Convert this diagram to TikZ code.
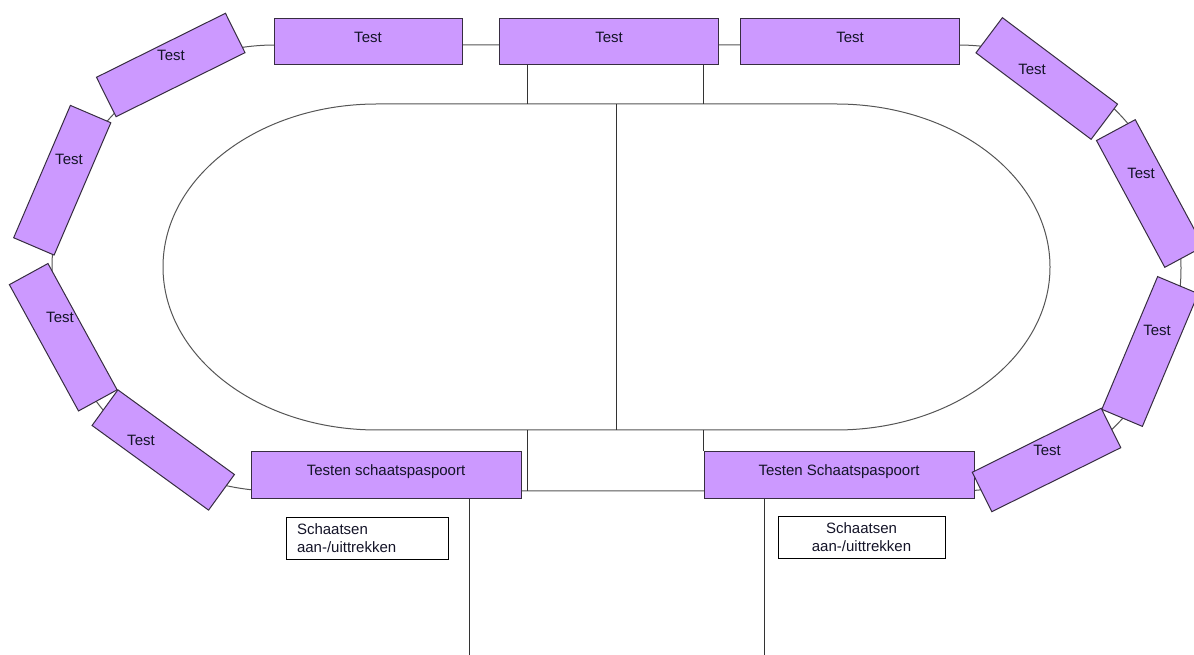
\documentclass[tikz,border=0pt]{standalone}
\usepackage{fontspec}
\setmainfont{Liberation Sans}
\usetikzlibrary{calc}
\definecolor{boxfill}{RGB}{204,153,255}
\definecolor{boxline}{RGB}{55,45,65}
\definecolor{trackline}{RGB}{85,85,85}
\definecolor{txt}{RGB}{20,20,40}
\tikzset{
  track/.style={draw=trackline, line width=1pt},
  conn/.style={draw=black!80, line width=0.9pt},
  tbox/.style={draw=boxline, fill=boxfill, line width=1pt, inner sep=0pt, minimum height=46pt},
  rbox/.style={draw=boxline, fill=boxfill, line width=1pt, inner sep=0pt, minimum width=144pt, minimum height=44pt},
  lab/.style={inner sep=0pt, text height=0.716em, text depth=0pt, text=txt, font=\fontsize{15}{17}\selectfont},
  note/.style={draw=black, line width=0.9pt, fill=white, inner xsep=11pt, minimum height=42pt, text=txt, font=\fontsize{15}{18}\selectfont}
}
\begin{document}
\begin{tikzpicture}[x=1pt, y=1pt]
\useasboundingbox (0,0) rectangle (1194,655);
\clip (0,0) rectangle (1194,655);

% outer track (stadium)
\coordinate (oTL) at (275,610);
\coordinate (oTR) at (958,610);
\coordinate (oBR) at (958,164);
\coordinate (oBL) at (275,164);
\draw[track] (oTL) -- (oTR) arc[start angle=90, end angle=-90, radius=223] -- (oBL) arc[start angle=270, end angle=90, radius=223] -- cycle;

% inner field
\coordinate (iTL) at (377,551);
\coordinate (iTR) at (836,551);
\coordinate (iBL) at (377,225);
\coordinate (iBR) at (836,225);
\draw[track] (iTL) -- (iTR) arc[start angle=90, end angle=-90, x radius=214, y radius=163] -- (iBL) arc[start angle=270, end angle=90, x radius=214, y radius=163] -- cycle;

% helper coordinates on the inner field and outer track
\coordinate (iT1) at (527,551);
\coordinate (iT2) at (703,551);
\coordinate (iTm) at (616,551);
\coordinate (iBm) at (616,225);
\coordinate (iB1) at (527,225);
\coordinate (iB2) at (703,225);
\coordinate (oB1) at (527,164);
\coordinate (end1) at (469,0);
\coordinate (end2) at (764,0);

% top boxes
\node[tbox, minimum width=188pt] (T1) at (368,613) {};
\node[tbox, minimum width=219pt] (T2) at (608.5,613) {};
\node[tbox, minimum width=219pt] (T3) at (849.5,613) {};

% bottom boxes
\node[tbox, minimum width=270pt, minimum height=47pt] (B1) at (386,179.5) {};
\node[tbox, minimum width=270pt, minimum height=47pt] (B2) at (839,179.5) {};

% connectors
\draw[conn] (T2.south -| iT1) -- (iT1);
\draw[conn] (T2.south -| iT2) -- (iT2);
\draw[conn] (iTm) -- (iBm);
\draw[conn] (iB1) -- (oB1);
\draw[conn] (iB2) -- (B2.north -| iB2);
\draw[conn] (B1.south -| end1) -- (end1);
\draw[conn] (B2.south -| end2) -- (end2);

% rotated boxes, left side
\node[rbox, rotate=26.4] (L1) at (170.75,590) {};
\node[rbox, rotate=66.8] (L2) at (62.25,474.75) {};
\node[rbox, rotate=-61.3] (L3) at (63.25,317.75) {};
\node[rbox, rotate=-36] (L4) at (163.25,205) {};
% rotated boxes, right side
\node[rbox, rotate=-36.9] (R1) at (1046.75,576.5) {};
\node[rbox, rotate=-61.7] (R2) at (1150,461.5) {};
\node[rbox, rotate=67.2] (R3) at (1150,303.5) {};
\node[rbox, rotate=26.4] (R4) at (1046.5,195) {};

% labels
\node[lab] (T1t) at (368,616) {Test};
\node[lab] (T2t) at (609,616) {Test};
\node[lab] (T3t) at (850,616) {Test};
\node[lab] (L1t) at (171,598) {Test};
\node[lab] (L2t) at (69,494) {Test};
\node[lab] (L3t) at (60,336) {Test};
\node[lab] (L4t) at (141,213) {Test};
\node[lab] (R1t) at (1032,584) {Test};
\node[lab] (R2t) at (1141,480) {Test};
\node[lab] (R3t) at (1157,323) {Test};
\node[lab] (R4t) at (1047,203) {Test};
\node[lab] (B1t) at (386,183) {Testen schaatspaspoort};
\node[lab] (B2t) at (839,183) {Testen Schaatspaspoort};

% notes
\node[note, text width=140pt, align=left, minimum width=162pt] (N1) at (367,117) {Schaatsen\\aan-/uittrekken};
\node[note, text width=145pt, align=center, minimum width=167pt] (N2) at (861.5,117.5) {Schaatsen\\aan-/uittrekken};
\end{tikzpicture}
\end{document}
